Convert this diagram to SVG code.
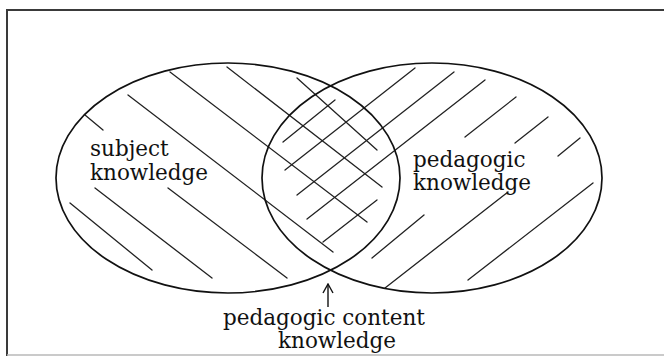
<svg xmlns="http://www.w3.org/2000/svg" width="664" height="356" viewBox="0 0 664 356">
<defs>
<style>
.bg{fill:#ffffff}
.frame{fill:none;stroke:#3a3a3a;stroke-width:2}
.frameb{fill:none;stroke:#b8b8b8;stroke-width:1.5}
.set{fill:none;stroke:#111;stroke-width:1.7}
.hatch{fill:none;stroke:#222;stroke-width:1.3;stroke-linecap:round}
.lbl{font-family:"DejaVu Serif","Liberation Serif",serif;font-size:21.5px;fill:#111}
.arrow{fill:none;stroke:#111;stroke-width:1.4}
</style>
<marker id="openArrow" viewBox="0 0 12 12" refX="11" refY="6" markerWidth="12" markerHeight="12" markerUnits="userSpaceOnUse" orient="auto">
<path d="M2,1 L11,6 L2,11" fill="none" stroke="#111" stroke-width="1.4"/>
</marker>
</defs>
<rect class="bg" x="0" y="0" width="664" height="356"/>
<path class="frame" d="M7,356 L7,10 L664,10"/>
<path class="frameb" d="M7,355 L664,355"/>

<g id="hatching">
<g class="hatch">
<line x1="85" y1="115" x2="103" y2="130"/>
<line x1="128" y1="95" x2="333" y2="252"/>
<line x1="170" y1="72" x2="367" y2="222"/>
<line x1="227" y1="67" x2="382" y2="187"/>
<line x1="297" y1="78" x2="377" y2="150"/>
<line x1="70" y1="203" x2="152" y2="270"/>
<line x1="95" y1="188" x2="212" y2="278"/>
<line x1="168" y1="188" x2="287" y2="278"/>
<line x1="283" y1="142" x2="335" y2="100"/>
<line x1="285" y1="170" x2="415" y2="68"/>
<line x1="297" y1="195" x2="454" y2="72"/>
<line x1="307" y1="219" x2="485" y2="80"/>
<line x1="323" y1="242" x2="377" y2="200"/>
<line x1="372" y1="258" x2="424" y2="215"/>
<line x1="465" y1="137" x2="516" y2="97"/>
<line x1="515" y1="143" x2="548" y2="117"/>
<line x1="558" y1="156" x2="580" y2="138"/>
<line x1="385" y1="288" x2="508" y2="192"/>
<line x1="468" y1="280" x2="593" y2="183"/>
</g>
</g>

<g id="subject-knowledge">
<ellipse class="set" cx="228" cy="178" rx="172" ry="115"/>
<text class="lbl" x="90" y="156">subject</text>
<text class="lbl" x="90" y="180">knowledge</text>
</g>

<g id="pedagogic-knowledge">
<ellipse class="set" cx="432" cy="178" rx="170" ry="115"/>
<text class="lbl" x="413" y="167">pedagogic</text>
<text class="lbl" x="413" y="190">knowledge</text>
</g>

<g id="pedagogic-content-knowledge">
<text class="lbl" x="223" y="325">pedagogic content</text>
<text class="lbl" x="278" y="348">knowledge</text>
</g>

<g id="connectors">
<line class="arrow" x1="328" y1="307" x2="328" y2="284" marker-end="url(#openArrow)"/>
</g>
</svg>
